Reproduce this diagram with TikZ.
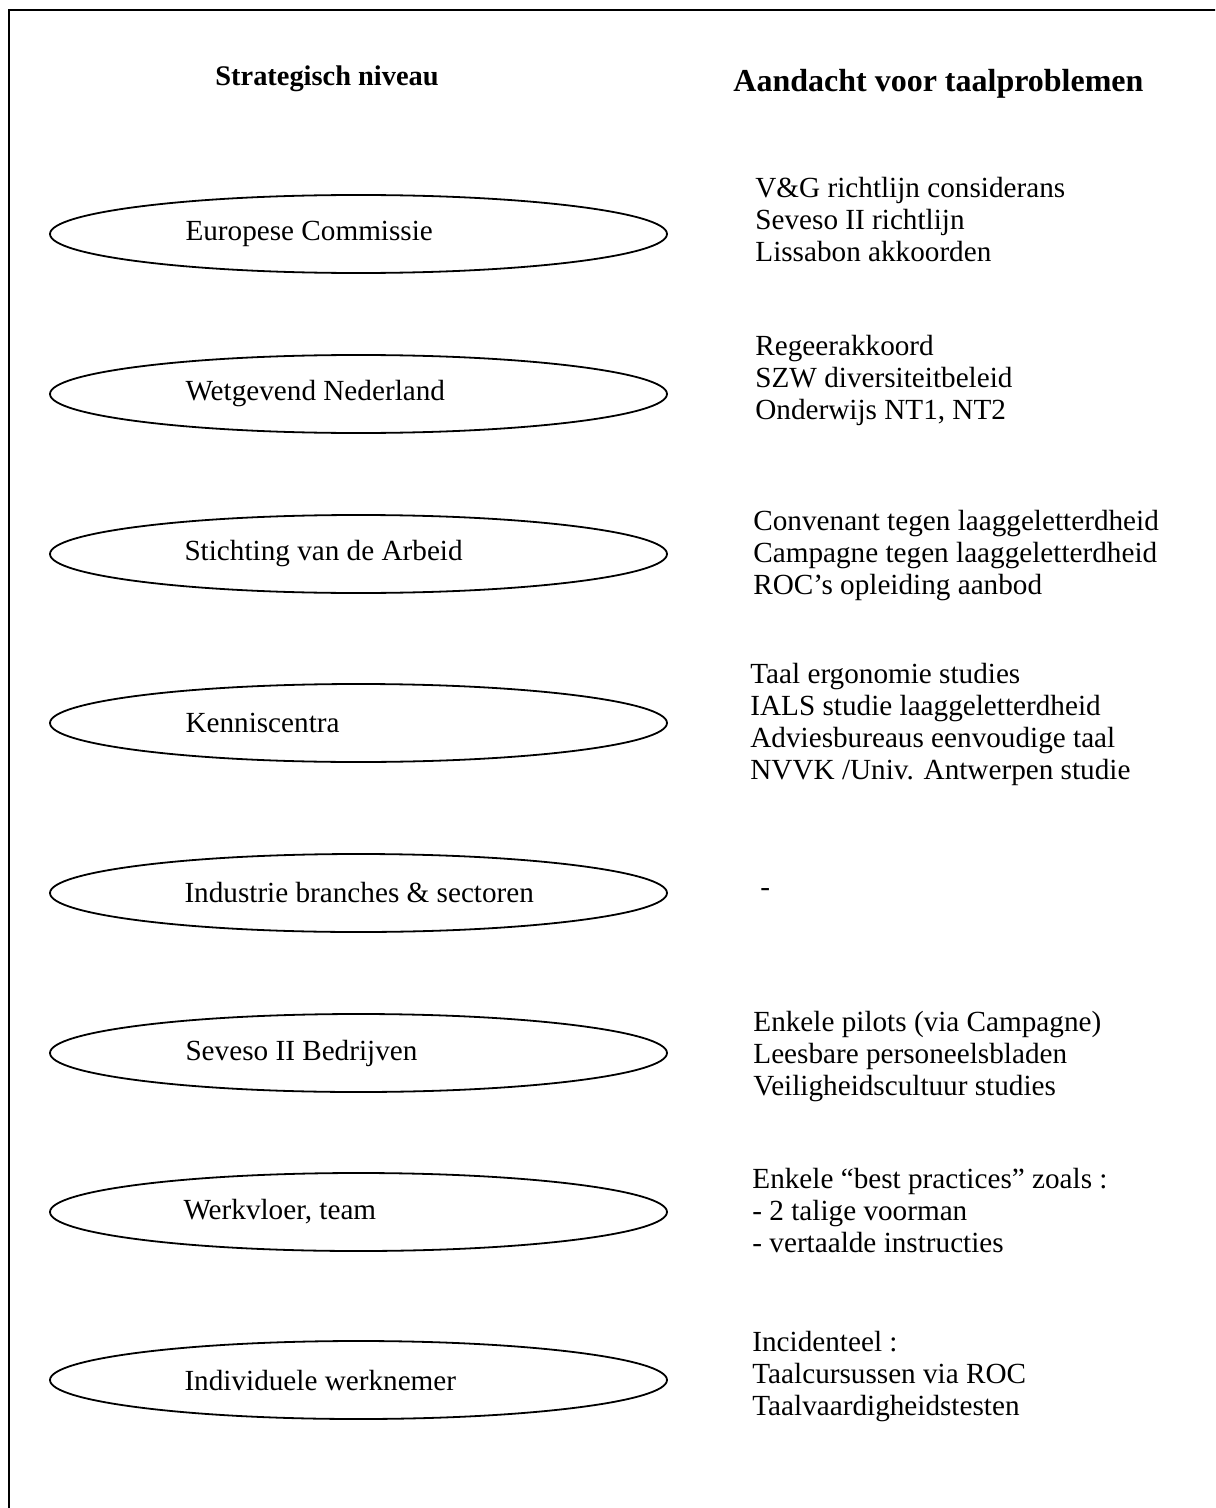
\documentclass[tikz,border=0pt]{standalone}
\usepackage{fontspec}
\setmainfont{Liberation Serif}
\usetikzlibrary{shapes.geometric, positioning}

\begin{document}
\begin{tikzpicture}[x=0.5pt, y=-0.5pt,
  level/.style={ellipse, draw, line width=0.9pt, minimum width=308.5pt, minimum height=39pt, inner sep=0pt},
  leveltext/.style={inner sep=0pt, font=\fontsize{14.6}{16}\selectfont},
  info/.style={anchor=west, inner sep=0pt, align=flush left, font=\fontsize{14.6}{16}\selectfont},
  head/.style={anchor=west, inner sep=0pt, font=\fontsize{14.2}{16}\selectfont\bfseries}]
\useasboundingbox (0,0) rectangle (1215,1508);
\clip (0,0) rectangle (1215,1508);
\draw[line width=1.1pt] (9,10) rectangle (1240,1530);

% headings
\node[head] (hleft) at (215,79) {Strategisch niveau};
\node[head, font=\fontsize{16}{18}\selectfont\bfseries] (hright) at (733,84) {Aandacht voor taalproblemen};

% levels
\node[level] (ec) at (358.5,234) {};
\node[level] (wn) at (358.5,394) {};
\node[level] (sa) at (358.5,554) {};
\node[level] (kc) at (358.5,723) {};
\node[level] (ib) at (358.5,893) {};
\node[level] (sb) at (358.5,1053) {};
\node[level] (wt) at (358.5,1212) {};
\node[level] (iw) at (358.5,1380) {};

\node[leveltext, right=68pt of ec.west] (ectext) {Europese Commissie};
\node[leveltext, right=68pt of wn.west] (wntext) {Wetgevend Nederland};
\node[leveltext, right=67.5pt of sa.west] (satext) {Stichting van de Arbeid};
\node[leveltext, right=68pt of kc.west] (kctext) {Kenniscentra};
\node[leveltext, right=67.5pt of ib.west] (ibtext) {Industrie branches \& sectoren};
\node[leveltext, right=68pt of sb.west] (sbtext) {Seveso II Bedrijven};
\node[leveltext, right=67pt of wt.west] (wttext) {Werkvloer, team};
\node[leveltext, right=67.5pt of iw.west] (iwtext) {Individuele werknemer};

% attention per level
\node[info] (ecinfo) at (755,220) {V\&G richtlijn considerans\\Seveso II richtlijn\\Lissabon akkoorden};
\node[info] (wninfo) at (755,380) {Regeerakkoord\\SZW diversiteitbeleid\\Onderwijs NT1, NT2};
\node[info] (sainfo) at (753,556) {Convenant tegen laaggeletterdheid\\Campagne tegen laaggeletterdheid\\ROC’s opleiding aanbod};
\node[info] (kcinfo) at (750,724) {Taal ergonomie studies\\IALS studie laaggeletterdheid\\Adviesbureaus eenvoudige taal\\NVVK /Univ. Antwerpen studie};
\node[info] (ibinfo) at (760,893) {-};
\node[info] (sbinfo) at (753,1057) {Enkele pilots (via Campagne)\\Leesbare personeelsbladen\\Veiligheidscultuur studies};
\node[info] (wtinfo) at (752,1210) {Enkele “best practices” zoals :\\- 2 talige voorman\\- vertaalde instructies};
\node[info] (iwinfo) at (752,1377) {Incidenteel :\\Taalcursussen via ROC\\Taalvaardigheidstesten};
\end{tikzpicture}
\end{document}
